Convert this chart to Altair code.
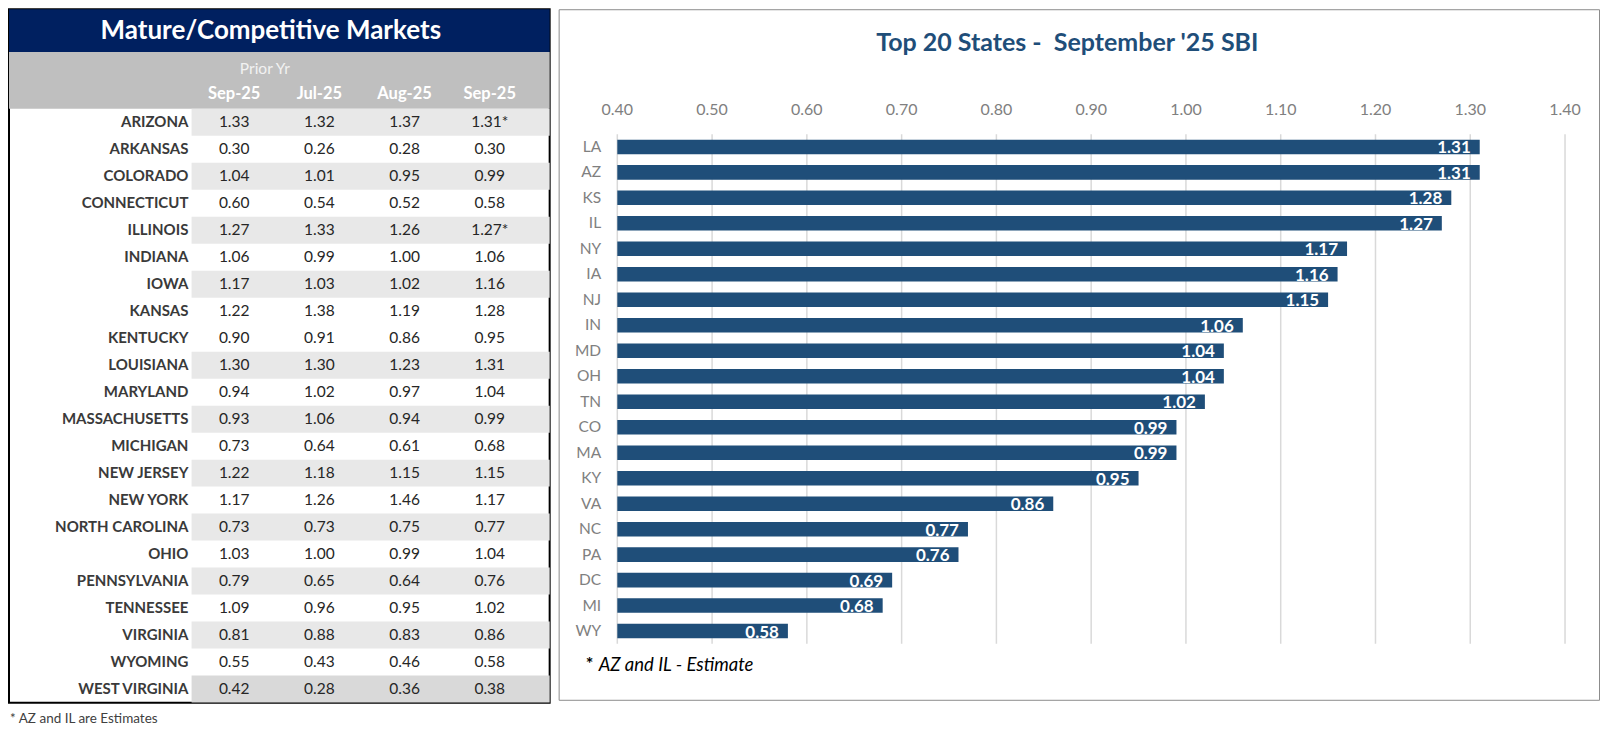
import altair as alt
import pandas as pd

# ---------------- data: left table ----------------
TABLE_TITLE = "Mature/Competitive Markets"
PRIOR_LABEL = "Prior Yr"
COL_KEYS = ["prior_sep", "jul", "aug", "sep"]
COL_LABELS = ["Sep-25", "Jul-25", "Aug-25", "Sep-25"]
STATES = ["ARIZONA", "ARKANSAS", "COLORADO", "CONNECTICUT", "ILLINOIS", "INDIANA",
          "IOWA", "KANSAS", "KENTUCKY", "LOUISIANA", "MARYLAND", "MASSACHUSETTS",
          "MICHIGAN", "NEW JERSEY", "NEW YORK", "NORTH CAROLINA", "OHIO",
          "PENNSYLVANIA", "TENNESSEE", "VIRGINIA", "WYOMING", "WEST VIRGINIA"]
PRIOR_SEP = [1.33, 0.30, 1.04, 0.60, 1.27, 1.06, 1.17, 1.22, 0.90, 1.30, 0.94,
             0.93, 0.73, 1.22, 1.17, 0.73, 1.03, 0.79, 1.09, 0.81, 0.55, 0.42]
JUL = [1.32, 0.26, 1.01, 0.54, 1.33, 0.99, 1.03, 1.38, 0.91, 1.30, 1.02,
       1.06, 0.64, 1.18, 1.26, 0.73, 1.00, 0.65, 0.96, 0.88, 0.43, 0.28]
AUG = [1.37, 0.28, 0.95, 0.52, 1.26, 1.00, 1.02, 1.19, 0.86, 1.23, 0.97,
       0.94, 0.61, 1.15, 1.46, 0.75, 0.99, 0.64, 0.95, 0.83, 0.46, 0.36]
SEP = [1.31, 0.30, 0.99, 0.58, 1.27, 1.06, 1.16, 1.28, 0.95, 1.31, 1.04,
       0.99, 0.68, 1.15, 1.17, 0.77, 1.04, 0.76, 1.02, 0.86, 0.58, 0.38]
ESTIMATED = ["ARIZONA", "ILLINOIS"]
SHADE = [1, 0, 1, 0, 1, 0, 1, 0, 0, 1, 0, 1, 0, 1, 0, 1, 0, 1, 0, 1, 0, 2]
TABLE_NOTE = "* AZ and IL are Estimates"

# ---------------- data: right chart ----------------
CHART_TITLE = "Top 20 States - \u00a0September '25 SBI"
BAR_STATES = ["LA", "AZ", "KS", "IL", "NY", "IA", "NJ", "IN", "MD", "OH",
              "TN", "CO", "MA", "KY", "VA", "NC", "PA", "DC", "MI", "WY"]
BAR_VALUES = [1.31, 1.31, 1.28, 1.27, 1.17, 1.16, 1.15, 1.06, 1.04, 1.04,
              1.02, 0.99, 0.99, 0.95, 0.86, 0.77, 0.76, 0.69, 0.68, 0.58]
X_TICKS = [0.40, 0.50, 0.60, 0.70, 0.80, 0.90, 1.00, 1.10, 1.20, 1.30, 1.40]
NOTE_STAR = "*"
NOTE_TEXT = "AZ and IL - Estimate"

FONT = "Lato"
NAVY = "#002060"
BLUE = "#1f4e79"

# ================= left table =================
LW, LH = 541, 694
cols_data = {"prior_sep": PRIOR_SEP, "jul": JUL, "aug": AUG, "sep": SEP}
cells = []
for i, s in enumerate(STATES):
    for k in COL_KEYS:
        lab = f"{cols_data[k][i]:.2f}"
        if k == "sep" and s in ESTIMATED:
            lab += "*"
        cells.append({"row": s, "col": k, "label": lab})
cells_df = pd.DataFrame(cells)
rows_df = pd.DataFrame({"row": STATES, "shade": SHADE})
shade_df = rows_df[rows_df["shade"] > 0]
head_df = pd.DataFrame({"col": COL_KEYS, "label": COL_LABELS})
title_df = pd.DataFrame({"t": [TABLE_TITLE]})
prior_df = pd.DataFrame({"t": [PRIOR_LABEL]})

y_rows = alt.Y("row:N", axis=None,
               scale=alt.Scale(domain=STATES, range=[99.7, 693.7],
                               paddingInner=0, paddingOuter=0))
x_cols = alt.X("col:N", axis=None, bandPosition=0.5,
               scale=alt.Scale(domain=COL_KEYS, range=[182.7, 523.7],
                               paddingInner=0, paddingOuter=0))

navy_band = alt.Chart(title_df).mark_rect(color=NAVY).encode(
    x=alt.value(0), x2=alt.value(LW), y=alt.value(0), y2=alt.value(42.7))
title_txt = alt.Chart(title_df).mark_text(
    font=FONT, fontSize=26, fontWeight="bold", color="white",
    align="center", baseline="middle").encode(
    x=alt.value(262), y=alt.value(22), text="t:N")
head_band = alt.Chart(title_df).mark_rect(color="#bfbfbf").encode(
    x=alt.value(0), x2=alt.value(LW), y=alt.value(42.7), y2=alt.value(99.7))
prior_txt = alt.Chart(prior_df).mark_text(
    font=FONT, fontSize=15.5, color="#f2f2f2", align="center", baseline="middle").encode(
    x=alt.value(256), y=alt.value(60), text="t:N")
head_txt = alt.Chart(head_df).mark_text(
    font=FONT, fontSize=16.5, fontWeight="bold", color="white",
    align="center", baseline="middle").encode(
    x=x_cols, y=alt.value(85), text="label:N")
shade_rect = alt.Chart(shade_df).mark_rect().encode(
    y=y_rows, x=alt.value(182.7), x2=alt.value(LW),
    color=alt.Color("shade:O", legend=None,
                    scale=alt.Scale(domain=[1, 2], range=["#e8e8e8", "#d9d9d9"])))
name_txt = alt.Chart(rows_df).mark_text(
    font=FONT, fontSize=15, fontWeight="bold", color="#3a3a3a",
    align="right", baseline="middle").encode(
    y=y_rows, x=alt.value(179.5), text="row:N")
val_txt = alt.Chart(cells_df).mark_text(
    font=FONT, fontSize=15.5, color="#262626", align="center", baseline="middle").encode(
    y=y_rows, x=x_cols, text="label:N")

left = alt.layer(navy_band, head_band, shade_rect, title_txt, prior_txt,
                 head_txt, name_txt, val_txt).properties(
    width=LW, height=LH,
    view=alt.ViewBackground(stroke="#000000", strokeWidth=2, fill="white"))

# ================= right bar chart =================
RW, RH = 1041, 691
bars_df = pd.DataFrame({"state": BAR_STATES, "value": BAR_VALUES})
ticks_df = pd.DataFrame({"tick": X_TICKS})
ctitle_df = pd.DataFrame({"t": [CHART_TITLE]})
star_df = pd.DataFrame({"t": [NOTE_STAR]})
note_df = pd.DataFrame({"t": [NOTE_TEXT]})

xs = alt.Scale(domain=[0.4, 1.4], range=[58.7, 1007], zero=False, nice=False)
ys = alt.Scale(domain=BAR_STATES, range=[125, 635], paddingInner=0.43, paddingOuter=0.215)

grid = alt.Chart(ticks_df).mark_rule(color="#d9d9d9", strokeWidth=1.5).encode(
    x=alt.X("tick:Q", scale=xs, axis=None), y=alt.value(125), y2=alt.value(635))
tick_lbl = alt.Chart(ticks_df).mark_text(
    font=FONT, fontSize=16, color="#808080", align="center", baseline="middle").encode(
    x=alt.X("tick:Q", scale=xs, axis=None), y=alt.value(101.3),
    text=alt.Text("tick:Q", format=".2f"))
bars = alt.Chart(bars_df).mark_bar(color=BLUE).encode(
    y=alt.Y("state:N", scale=ys, axis=None, sort=None),
    x=alt.X("value:Q", scale=xs, axis=None), x2=alt.datum(0.4))
val_lbl = alt.Chart(bars_df).mark_text(
    font=FONT, fontSize=17, fontWeight="bold", color="white",
    align="right", baseline="middle", dx=-9, dy=1.5).encode(
    y=alt.Y("state:N", scale=ys, axis=None, sort=None),
    x=alt.X("value:Q", scale=xs, axis=None),
    text=alt.Text("value:Q", format=".2f"))
y_lbl = alt.Chart(bars_df).mark_text(
    font=FONT, fontSize=15.5, color="#808080", align="right", baseline="middle").encode(
    y=alt.Y("state:N", scale=ys, axis=None, sort=None), x=alt.value(42.5),
    text="state:N")
ctitle = alt.Chart(ctitle_df).mark_text(
    font=FONT, fontSize=25, fontWeight="bold", color=BLUE,
    align="center", baseline="alphabetic").encode(
    x=alt.value(509), y=alt.value(42), text="t:N")
star = alt.Chart(star_df).mark_text(
    font=FONT, fontSize=18, fontWeight="bold", color="#000000",
    align="left", baseline="middle").encode(
    x=alt.value(27), y=alt.value(656), text="t:N")
note = alt.Chart(note_df).mark_text(
    font=FONT, fontSize=18.5, fontStyle="italic", color="#000000",
    align="left", baseline="middle").encode(
    x=alt.value(40), y=alt.value(656), text="t:N")

right = alt.layer(grid, tick_lbl, bars, val_lbl, y_lbl, ctitle, star, note).properties(
    width=RW, height=RH,
    view=alt.ViewBackground(stroke="#8c8c8c", strokeWidth=1, fill="white"))

chart = alt.hconcat(left, right, spacing=7).properties(
    padding=0,
    title=alt.TitleParams(text=TABLE_NOTE, orient="bottom", anchor="start",
                          font=FONT, fontSize=13.5, fontWeight="normal",
                          color="#404040", offset=8, dx=2),
).configure(background="white")

chart.save("out.html", embed_options={"renderer": "svg", "actions": False})
